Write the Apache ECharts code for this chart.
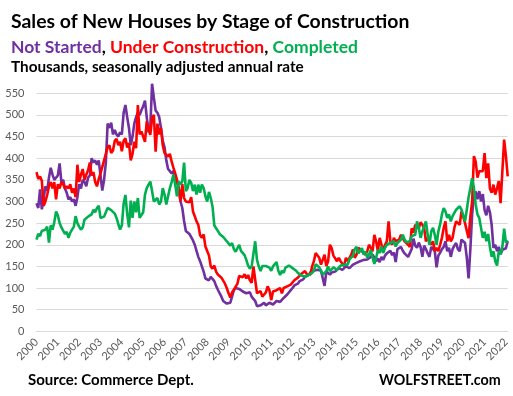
<!DOCTYPE html>
<html lang="en">
<head>
<meta charset="UTF-8">
<title>Sales of New Houses by Stage of Construction</title>
<script src="https://cdn.jsdelivr.net/npm/echarts@6/dist/echarts.min.js"></script>
<style>
  html, body { margin: 0; padding: 0; background: #fff; }
  #chart { width: 513px; height: 396px; }
</style>
</head>
<body>
<div id="chart"></div>
<script>
// monthly, Jan 2000 - Feb 2022, thousands SAAR
var years = ['2000','2001','2002','2003','2004','2005','2006','2007','2008','2009','2010',
             '2011','2012','2013','2014','2015','2016','2017','2018','2019','2020','2021','2022'];

var notStarted = [
  296, 285, 328, 282, 305, 335, 325, 355, 378, 362, 350, 352,  // 2000
  360, 388, 345, 350, 330, 320, 305, 310, 300, 305, 290, 310,  // 2001
  340, 330, 350, 345, 335, 355, 360, 400, 390, 395, 385, 395,  // 2002
  360, 325, 350, 390, 480, 470, 482, 455, 465, 455, 450, 460,  // 2003
  455, 505, 523, 495, 470, 430, 450, 480, 495, 505, 500, 511,  // 2004
  520, 533, 495, 460, 470, 572, 540, 510, 505, 495, 470, 440,  // 2005
  425, 395, 375, 370, 365, 370, 355, 345, 330, 300, 285, 255,  // 2006
  232, 228, 225, 226, 210, 200, 186, 172, 162, 150, 138, 122,  // 2007
  120, 118, 126, 128, 116, 105, 96, 88, 80, 70, 66, 64,        // 2008
  63, 66, 64, 95, 100, 104, 98, 94, 92, 95, 88, 85,            // 2009
  90, 80, 75, 70, 58, 55, 60, 62, 66, 60, 62, 66,              // 2010
  64, 62, 66, 70, 73, 68, 72, 77, 80, 85, 88, 95,              // 2011
  100, 106, 104, 110, 116, 114, 120, 126, 124, 130, 136, 138,  // 2012
  140, 138, 142, 145, 140, 142, 105, 138, 135, 131, 136, 135,  // 2013
  138, 140, 146, 148, 142, 145, 150, 148, 146, 150, 154, 152,  // 2014
  158, 160, 162, 164, 165, 163, 166, 169, 172, 177, 170, 162,  // 2015
  168, 160, 172, 165, 175, 180, 183, 186, 176, 182, 160, 190,  // 2016
  192, 195, 186, 180, 183, 172, 168, 190, 214, 198, 193, 205,  // 2017
  195, 172, 198, 190, 180, 172, 195, 192, 185, 148, 175, 182,  // 2018
  190, 195, 208, 185, 193, 172, 190, 198, 204, 190, 185, 212,  // 2019
  212, 204, 170, 122, 190, 270, 316, 323, 305, 324, 300, 317,  // 2020
  280, 268, 290, 275, 245, 193, 200, 185, 195, 178, 188, 185,  // 2021
  192, 208                                                     // 2022
];

var underConstruction = [
  368, 352, 358, 348, 290, 300, 315, 335, 345, 330, 345, 305,  // 2000
  340, 330, 345, 340, 330, 335, 330, 340, 320, 330, 310, 385,  // 2001
  345, 362, 375, 350, 362, 372, 390, 360, 368, 345, 335, 352,  // 2002
  365, 380, 395, 410, 425, 430, 412, 418, 440, 445, 430, 438,  // 2003
  416, 440, 446, 425, 435, 395, 410, 438, 423, 523, 455, 462,  // 2004
  450, 438, 485, 469, 454, 492, 500, 415, 480, 455, 470, 430,  // 2005
  412, 408, 404, 410, 392, 378, 365, 350, 330, 300, 340, 308,  // 2006
  300, 304, 298, 310, 277, 266, 254, 246, 222, 216, 224, 196,  // 2007
  192, 175, 150, 145, 152, 138, 131, 128, 124, 120, 110, 100,  // 2008
  88, 78, 90, 96, 92, 110, 128, 130, 125, 132, 122, 130,       // 2009
  118, 112, 150, 148, 88, 85, 93, 80, 85, 90, 104, 95,         // 2010
  72, 92, 88, 95, 92, 100, 88, 100, 96, 104, 100, 108,         // 2011
  110, 118, 114, 124, 128, 133, 136, 139, 132, 136, 131, 150,  // 2012
  162, 181, 177, 170, 154, 158, 177, 151, 162, 200, 192, 175,  // 2013
  173, 162, 170, 162, 166, 151, 170, 162, 166, 177, 189, 170,  // 2014
  177, 193, 196, 185, 189, 177, 185, 200, 193, 185, 223, 208,  // 2015
  185, 216, 216, 185, 200, 208, 254, 208, 200, 216, 208, 210,  // 2016
  212, 223, 215, 208, 210, 200, 195, 238, 228, 246, 250, 238,  // 2017
  252, 246, 239, 208, 216, 208, 200, 208, 185, 193, 185, 200,  // 2018
  216, 239, 254, 208, 223, 208, 216, 239, 254, 250, 246, 277,  // 2019
  265, 250, 232, 215, 265, 300, 405, 392, 355, 370, 366, 370,  // 2020
  412, 354, 388, 330, 320, 339, 316, 331, 347, 296, 370, 443,  // 2021
  405, 358                                                     // 2022
];

var completed = [
  212, 225, 220, 232, 228, 235, 242, 205, 245, 235, 252, 277,  // 2000
  268, 250, 240, 238, 225, 230, 216, 228, 232, 242, 266, 250,  // 2001
  242, 235, 240, 258, 262, 265, 263, 270, 281, 275, 285, 290,  // 2002
  262, 258, 265, 275, 285, 288, 280, 278, 272, 262, 248, 235,  // 2003
  245, 295, 315, 272, 240, 302, 262, 300, 275, 308, 262, 265,  // 2004
  275, 316, 331, 339, 346, 324, 300, 296, 308, 293, 300, 331,  // 2005
  316, 293, 290, 331, 345, 362, 339, 312, 346, 340, 346, 390,  // 2006
  324, 331, 350, 343, 324, 339, 316, 339, 320, 339, 331, 312,  // 2007
  300, 322, 308, 288, 245, 238, 232, 225, 228, 218, 214, 208,  // 2008
  206, 198, 204, 190, 184, 188, 200, 186, 182, 176, 165, 152,  // 2009
  145, 150, 146, 208, 165, 150, 139, 151, 151, 151, 154, 147,  // 2010
  140, 150, 154, 160, 140, 130, 140, 135, 147, 150, 152, 154,  // 2011
  146, 143, 140, 135, 131, 129, 133, 126, 127, 130, 131, 135,  // 2012
  140, 155, 152, 148, 140, 131, 127, 139, 150, 139, 143, 148,  // 2013
  150, 142, 143, 152, 151, 154, 158, 154, 166, 162, 175, 190,  // 2014
  195, 180, 177, 192, 177, 185, 170, 177, 188, 170, 156, 170,  // 2015
  188, 181, 196, 181, 193, 200, 196, 204, 200, 208, 196, 204,  // 2016
  208, 212, 223, 212, 206, 202, 208, 220, 216, 223, 254, 239,  // 2017
  216, 231, 235, 254, 223, 200, 231, 239, 223, 200, 231, 247,  // 2018
  270, 285, 277, 262, 270, 254, 266, 262, 281, 277, 289, 281,  // 2019
  285, 254, 281, 310, 331, 354, 331, 293, 270, 262, 239, 216,  // 2020
  230, 208, 225, 195, 172, 185, 162, 152, 185, 178, 195, 237,  // 2021
  205, 210                                                     // 2022
];

// category labels, one per month
var months = [];
for (var i = 0; i < notStarted.length; i++) {
    months.push(years[Math.floor(i / 12)] + '-' + (i % 12 + 1));
}

var chart = echarts.init(document.getElementById('chart'));

var font = 'Lato, "Open Sans", sans-serif';

var option = {
    animation: false,
    backgroundColor: '#fff',
    title: [
        {
            text: 'Sales of New Houses by Stage of Construction',
            left: 11, top: 12, padding: 0,
            textStyle: {fontFamily: font, fontSize: 19.4, fontWeight: 'bold', color: '#000'}
        },
        {
            text: '{p|Not Started}{k|, }{r|Under Construction}{k|, }{g|Completed}',
            left: 11, top: 38, padding: 0,
            textStyle: {
                rich: {
                    p: {fontFamily: font, fontSize: 17.5, fontWeight: 'bold', color: '#7030A0'},
                    r: {fontFamily: font, fontSize: 17.5, fontWeight: 'bold', color: '#FF0000'},
                    g: {fontFamily: font, fontSize: 17.5, fontWeight: 'bold', color: '#00B050'},
                    k: {fontFamily: font, fontSize: 17.5, fontWeight: 'bold', color: '#000'}
                }
            }
        },
        {
            text: 'Thousands, seasonally adjusted annual rate',
            left: 11, top: 60, padding: 0,
            textStyle: {fontFamily: font, fontSize: 15.3, fontWeight: 'bold', color: '#000'}
        },
        {
            text: 'Source: Commerce Dept.',
            left: 28, top: 373, padding: 0,
            textStyle: {fontFamily: font, fontSize: 15, fontWeight: 'bold', color: '#000'}
        },
        {
            text: 'WOLFSTREET.com',
            left: 379, top: 373, padding: 0,
            textStyle: {fontFamily: font, fontSize: 14.3, fontWeight: 'bold', color: '#000'}
        }
    ],
    grid: {left: 36.5, right: 5.3, top: 93.3, bottom: 64.7},
    xAxis: {
        type: 'category',
        data: months,
        boundaryGap: false,
        axisLine: {show: true, lineStyle: {color: '#D9D9D9'}},
        axisTick: {show: false},
        axisLabel: {
            interval: function (index) { return index % 12 === 0; },
            formatter: function (v) { return v.split('-')[0]; },
            rotate: 45,
            margin: 9,
            color: '#595959',
            fontFamily: font,
            fontSize: 11
        },
        splitLine: {show: false}
    },
    yAxis: {
        type: 'value',
        min: 0, max: 550, interval: 50,
        axisLine: {show: false},
        axisTick: {show: false},
        axisLabel: {color: '#595959', fontFamily: font, fontSize: 11, margin: 12},
        splitLine: {lineStyle: {color: '#D9D9D9', width: 1}}
    },
    series: [
        {name: 'Not Started', type: 'line', data: notStarted, showSymbol: false, clip: false,
         lineStyle: {color: '#7030A0', width: 2.6}, itemStyle: {color: '#7030A0'}},
        {name: 'Under Construction', type: 'line', data: underConstruction, showSymbol: false, clip: false,
         lineStyle: {color: '#FF0000', width: 2.6}, itemStyle: {color: '#FF0000'}},
        {name: 'Completed', type: 'line', data: completed, showSymbol: false, clip: false,
         lineStyle: {color: '#00B050', width: 2.6}, itemStyle: {color: '#00B050'}}
    ]
};

chart.setOption(option);
</script>
</body>
</html>
